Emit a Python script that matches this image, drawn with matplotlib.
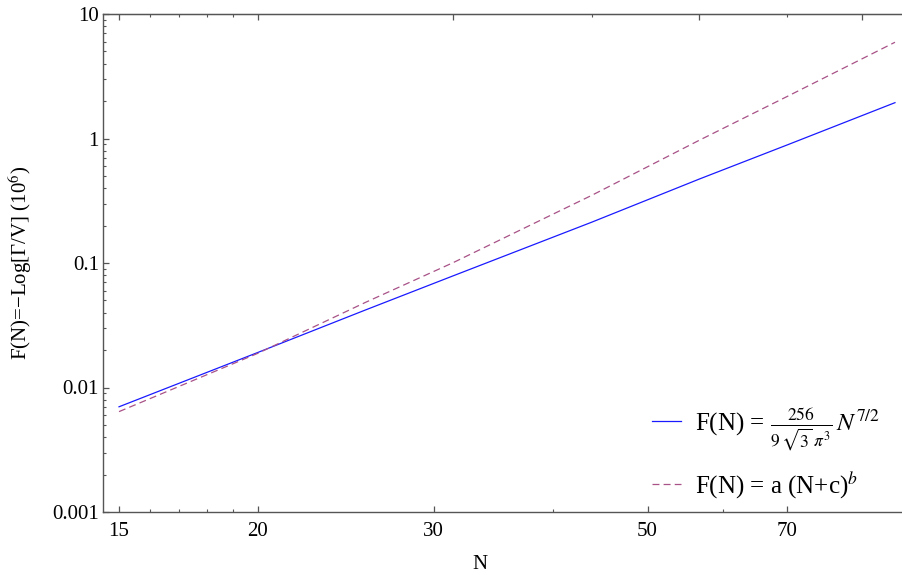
import numpy as np
import matplotlib
matplotlib.use('Agg')
import matplotlib.pyplot as plt
from matplotlib.ticker import FixedLocator, NullFormatter, LogLocator

plt.rcParams['font.family'] = ['Liberation Serif', 'DejaVu Serif']
plt.rcParams['mathtext.fontset'] = 'stix'
plt.rcParams['lines.scale_dashes'] = False

# значения
N = [15, 20, 25, 30, 40, 50, 60, 75]
F_exact = [0.0070, 0.0191, 0.0419, 0.0789, 0.213, 0.473, 0.889, 1.94]
F_fit = [0.0064, 0.0188, 0.0482, 0.1007, 0.35, 0.97, 2.18, 5.93]

# подписи нижней оси (стоят не на своих местах, как в оригинале)
xt_pos = [15, 20, 28.8, 44.9, 60.0]
xt_lab = ['15', '20', '30', '50', '70']
xt_minor = [16, 17, 18, 19, 36.9, 52.5]
# верхняя ось
top_major = [15, 20, 30, 50, 70]
top_minor = [16, 17, 18, 19, 40, 60]
yt_pos = [0.001, 0.01, 0.1, 1, 10]
yt_lab = ['0.001', '0.01', '0.1', '1', '10']

lab1 = r'F(N) = $\frac{256}{9\,\sqrt{3}\;\pi^3}\,N^{7/2}$'
lab2 = r'F(N) = a (N+c)$^{b}$'

fig = plt.figure(figsize=(9.02, 5.75), dpi=100)
ax = fig.add_axes([103/902, 63/575, 799/902, 498/575])

ax.plot(N, F_exact, color='#1a1aff', lw=0.9, label=lab1)
ax.plot(N, F_fit, color='#a85287', lw=0.9, dashes=(5, 3), label=lab2)

ax.set_xscale('log')
ax.set_yscale('log')
ax.set_xlim(14.51, 76.1)
ax.set_ylim(0.001, 10)

spc = '#555555'
for s in ['left', 'bottom', 'top']:
    ax.spines[s].set_color(spc)
    ax.spines[s].set_linewidth(1.0)
ax.spines['right'].set_visible(False)

ax.xaxis.set_major_locator(FixedLocator(xt_pos))
ax.xaxis.set_minor_locator(FixedLocator(xt_minor))
ax.set_xticks(xt_pos)
ax.set_xticklabels(xt_lab)
ax.xaxis.set_minor_formatter(NullFormatter())
ax.set_yticks(yt_pos)
ax.set_yticklabels(yt_lab)
ax.yaxis.set_minor_locator(LogLocator(base=10, subs=np.arange(2, 10)))
ax.yaxis.set_minor_formatter(NullFormatter())

ax.tick_params(which='both', direction='in', color=spc, labelsize=15,
               top=False, right=False)
ax.tick_params(which='major', length=4.5, width=0.9)
ax.tick_params(which='minor', length=2.5, width=0.8)
ax.tick_params(axis='x', pad=7)
ax.tick_params(axis='y', pad=3)

ax2 = ax.twiny()
ax2.set_xscale('log')
ax2.set_xlim(ax.get_xlim())
ax2.xaxis.set_major_locator(FixedLocator(top_major))
ax2.xaxis.set_minor_locator(FixedLocator(top_minor))
ax2.xaxis.set_major_formatter(NullFormatter())
ax2.xaxis.set_minor_formatter(NullFormatter())
ax2.tick_params(which='both', direction='in', color=spc)
ax2.tick_params(which='major', length=4.5, width=0.9)
ax2.tick_params(which='minor', length=2.5, width=0.8)
for s in ['left', 'bottom', 'right']:
    ax2.spines[s].set_visible(False)
ax2.spines['top'].set_color(spc)

ax.set_xlabel('N', fontsize=15)
ax.xaxis.set_label_coords(0.472, -0.086)
ax.set_ylabel('F(N)=\u2212Log[Γ/V] (10$^6$)', fontsize=15)
ax.yaxis.set_label_coords(-0.086, 0.5)

leg = ax.legend(loc='lower left', bbox_to_anchor=(0.687, 0.023), frameon=False,
                fontsize=18, handlelength=1.16, handletextpad=0.56,
                labelspacing=0.67, borderpad=0, borderaxespad=0)

fig.savefig('out.png', dpi=100)
